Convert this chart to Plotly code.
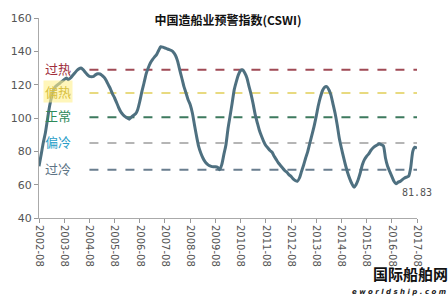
import plotly.graph_objects as go
import pandas as pd

cswi = [71, 78, 85, 91, 99, 107, 113, 117, 119, 120,
        121, 122, 123, 124, 123, 124, 125.5, 127, 128.5, 129.5,
        130, 129, 127.5, 126, 125, 124.8, 125, 126, 126.5, 126.4,
        125.5, 124.5, 122.5, 120, 117.5, 114.5, 112, 109, 106, 103.5,
        102, 100.8, 100, 99.3, 100.5, 101.5, 102.5, 105, 110, 116,
        121, 126.5, 130, 133, 135, 136.5, 138, 140.5, 142.8, 142.5,
        142, 141.5, 141, 140.5, 139.5, 137.5, 134, 129, 124, 119,
        115, 111, 108, 103, 96, 89, 83, 79, 76, 74,
        72.5, 71.5, 71, 70.8, 70.8, 70.5, 69, 72, 78, 84,
        94, 101, 109, 117, 122, 126, 128.5, 128.8, 127, 124,
        119, 114, 108, 102, 97, 92.5, 89, 86, 83.5, 82,
        80.5, 79.5, 77, 75, 73, 71.5, 70, 68.5, 67.5, 66,
        65, 63.5, 62.5, 62, 64, 68, 72, 76, 80, 85,
        90, 95, 101, 107.5, 112.5, 116.5, 118.5, 118.8, 117, 114,
        108.5, 103, 96, 88, 82, 76.5, 71.5, 67, 63.5, 60.5,
        58.5, 60, 63, 67, 72, 75, 77, 78.5, 80.5, 82,
        83, 83.8, 84.5, 84, 83.3, 76, 71, 68, 65, 62,
        60.5, 61.5, 62, 63, 64, 64.5, 65, 70, 80, 82.5,
        81.83]
dates = pd.date_range("2002-08-01", periods=len(cswi), freq="MS")

level_names = ["过热", "偏热", "正常", "偏冷", "过冷"]
level_values = [129, 115, 100.5, 85, 69]
level_line_colors = ["#a04a55", "#e8da80", "#3d7a5e", "#b5b5b5", "#6a7e8f"]
level_text_colors = ["#a0303e", "#d8c040", "#2e8a5a", "#2a9ec8", "#5d7486"]
level_start = "2004-08-01"
level_end = "2017-08-01"

tick_labels = [f"{y}-08" for y in range(2002, 2018)]
tick_vals = [f"{y}-08-01" for y in range(2002, 2018)]

fig = go.Figure()

for name, val, col in zip(level_names, level_values, level_line_colors):
    fig.add_trace(go.Scatter(x=[level_start, level_end], y=[val, val], mode="lines",
                             line=dict(color=col, width=2, dash="dash"),
                             showlegend=False, hoverinfo="skip"))

fig.add_trace(go.Scatter(x=dates, y=cswi, mode="lines",
                         line=dict(color="#4e7080", width=3, shape="spline", smoothing=0.6),
                         showlegend=False))

for name, val, col in zip(level_names, level_values, level_text_colors):
    fig.add_annotation(x="2003-05-01", y=val + 0.8, text=name, showarrow=False,
                       font=dict(size=13, color=col, family="Noto Sans CJK SC"),
                       xanchor="center", yanchor="middle",
                       bgcolor="rgba(255,240,140,0.6)" if name == "偏热" else None)

fig.add_annotation(x=dates[-1], y=55.5, text=f"{cswi[-1]:.2f}", showarrow=False,
                   font=dict(size=10, color="#555555", family="DejaVu Sans Mono"),
                   xanchor="center", yanchor="middle")

fig.update_layout(
    width=448, height=298,
    margin=dict(l=39, r=31, t=18, b=80),
    paper_bgcolor="white", plot_bgcolor="white",
    title=dict(text="<b>中国造船业预警指数(CSWI)</b>", x=0.5, xref="paper", y=0.93, yanchor="middle",
               font=dict(size=12, color="#111111", family="Noto Sans CJK SC")),
    xaxis=dict(range=["2002-08-01", "2017-08-01"], tickvals=tick_vals, ticktext=tick_labels,
               tickangle=90, ticks="outside", ticklen=4, tickcolor="#999999",
               showline=True, linecolor="#aaaaaa", linewidth=1, showgrid=False, zeroline=False,
               tickfont=dict(size=10, color="#555555", family="DejaVu Sans")),
    yaxis=dict(range=[40, 160], tickvals=[40, 60, 80, 100, 120, 140, 160],
               ticks="outside", ticklen=4, tickcolor="#999999",
               showline=True, linecolor="#aaaaaa", linewidth=1, showgrid=False, zeroline=False,
               tickfont=dict(size=11, color="#555555", family="DejaVu Sans")),
)

fig.add_annotation(x=1.085, y=-0.335, xref="paper", yref="paper", text="<b>国际船舶网</b>",
                   showarrow=False, xanchor="right", yanchor="bottom", borderpad=0,
                   font=dict(size=15, color="#111111", family="Noto Sans CJK SC"))
fig.add_annotation(x=1.08, y=-0.345, xref="paper", yref="paper", text="<b><i>e w o r l d s h i p . c o m</i></b>",
                   showarrow=False, xanchor="right", yanchor="top", borderpad=0,
                   font=dict(size=7, color="#222222", family="DejaVu Sans"))

fig.write_html("out.html")
